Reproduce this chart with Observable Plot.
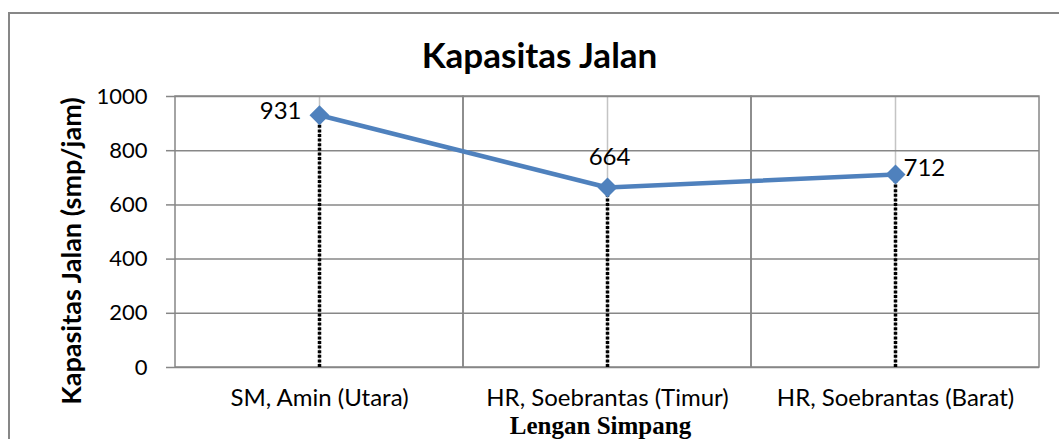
<!DOCTYPE html>
<html><head><meta charset="utf-8">
<script src="https://cdn.jsdelivr.net/npm/d3@7"></script>
<script src="https://cdn.jsdelivr.net/npm/@observablehq/plot@0.6"></script>
<style>
body{margin:0;background:#fff;}
#wrap{position:relative;width:1059px;height:439px;overflow:hidden;background:#fff;}
#border{position:absolute;left:8px;top:12px;width:1200px;height:600px;border:2px solid #878787;box-sizing:border-box;}
#chart{position:absolute;left:0;top:0;}
</style></head><body>
<div id="wrap"><div id="border"></div><div id="chart"></div></div>
<script>
const categories = ["SM, Amin (Utara)", "HR, Soebrantas (Timur)", "HR, Soebrantas (Barat)"];
const values = [931, 664, 712];
const yTicks = [0, 200, 400, 600, 800, 1000];
const title = "Kapasitas Jalan";
const yLabel = "Kapasitas Jalan (smp/jam)";
const xLabel = "Lengan Simpang";

const data = categories.map((c, i) => ({cat: c, value: values[i]}));
const yMax = d3.max(yTicks);
const blue = "#4F81BD";
const grid = "#878787";
const sans = "Lato";

const labelOpts = [
  {textAnchor: "end", dx: -18, dy: -4},
  {textAnchor: "middle", dx: 2, dy: -30},
  {textAnchor: "start", dx: 8, dy: -6}
];

const chart = Plot.plot({
  width: 1059,
  height: 439,
  marginLeft: 175,
  marginRight: 20,
  marginTop: 96,
  marginBottom: 72,
  style: {fontFamily: sans, fontSize: "22px", color: "black", background: "transparent"},
  x: {type: "band", domain: categories, padding: 0, axis: null},
  y: {domain: [0, yMax], axis: null},
  marks: [
    Plot.ruleX(data, {x: "cat", y1: 0, y2: yMax, stroke: "#c4c4c4", strokeWidth: 1.5}),
    Plot.ruleY(yTicks, {stroke: grid, strokeWidth: 1.5}),
    Plot.barY(data, {x: "cat", y1: 0, y2: yMax, fill: "none", stroke: grid, strokeWidth: 1.5}),
    Plot.axisY(yTicks, {tickSize: 9, tickPadding: 19, tickFormat: d => String(d), stroke: grid, strokeWidth: 1.5, fill: "black", fontSize: 22, label: null}),
    Plot.axisX({tickSize: 0, tickPadding: 21, fill: "black", fontSize: 24, label: null}),
    Plot.ruleX(data, {x: "cat", y1: 0, y2: "value", stroke: "black", strokeWidth: 3.5, strokeDasharray: "3,1.6"}),
    Plot.lineY(data, {x: "cat", y: "value", stroke: blue, strokeWidth: 4.5}),
    Plot.dot(data, {x: "cat", y: "value", symbol: "diamond2", r: 9, fill: blue, stroke: "none"}),
    ...labelOpts.map((o, k) => Plot.text(data, {
      filter: (d, i) => i === k,
      x: "cat", y: "value", text: d => String(d.value),
      fontSize: 24, fill: "black", ...o
    })),
    Plot.text([title], {frameAnchor: "top", text: d => d, textAnchor: "middle", lineAnchor: "bottom", dx: -68, dy: -29, fontSize: 35, fontWeight: "bold", fill: "black"}),
    Plot.text([yLabel], {frameAnchor: "left", text: d => d, rotate: -90, textAnchor: "middle", lineAnchor: "middle", dx: -103, dy: 19, fontSize: 27, fontWeight: "bold", fill: "black"}),
    Plot.text([xLabel], {frameAnchor: "bottom", text: d => d, textAnchor: "middle", lineAnchor: "bottom", dx: -7, dy: 66, fontSize: 25, fontWeight: "bold", fontFamily: "Liberation Serif", fill: "black"})
  ]
});
document.getElementById("chart").appendChild(chart);
</script>
</body></html>
